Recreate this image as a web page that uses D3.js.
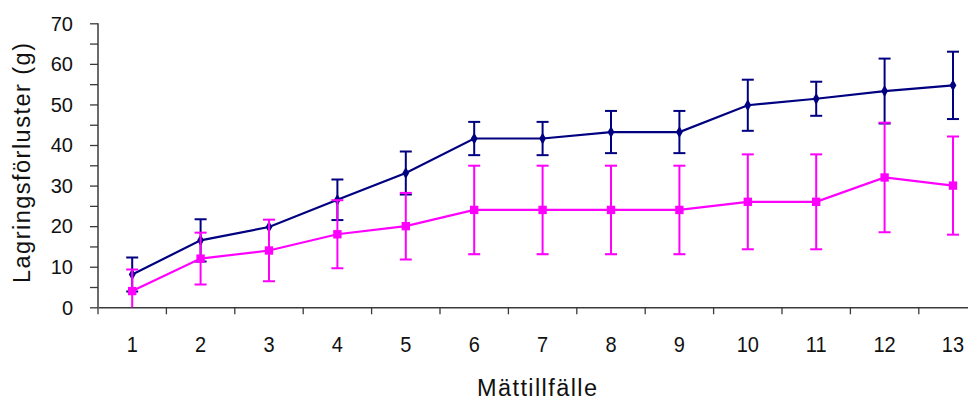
<!DOCTYPE html>
<html>
<head>
<meta charset="utf-8">
<script src="https://cdn.jsdelivr.net/npm/d3@7"></script>
<style>
  html, body { margin: 0; padding: 0; background: #fff; }
  svg { display: block; font-family: "Liberation Sans", Arial, sans-serif; }
</style>
</head>
<body>
<svg id="chart" width="968" height="400"></svg>
<script>
const categories = ["1","2","3","4","5","6","7","8","9","10","11","12","13"];
const navyValues = [8.1, 16.5, 19.8, 26.5, 33.1, 41.6, 41.6, 43.2, 43.2, 49.8, 51.4, 53.3, 54.7];
const navyErrors = [4.2, 5.2, 0, 5.0, 5.3, 4.1, 4.1, 5.2, 5.2, 6.3, 4.2, 8.0, 8.3];
const pinkValues = [4.0, 12.0, 14.0, 18.0, 20.0, 24.0, 24.0, 24.0, 24.0, 26.0, 26.0, 32.0, 30.0];
const pinkErrors = [5.3, 6.4, 7.6, 8.4, 8.2, 10.9, 10.9, 10.9, 10.9, 11.7, 11.7, 13.5, 12.1];
const yTicks = [0, 10, 20, 30, 40, 50, 60, 70];
const yMinorTicks = [0, 5, 10, 15, 20, 25, 30, 35, 40, 45, 50, 55, 60, 65, 70];
const yTitle = "Lagringsförluster (g)";
const xTitle = "Mättillfälle";

const svg = d3.select("#chart");
const mLeft = 98, mTop = 23.3, mBottom = 307.3, bandW = 68.4;
const x = d3.scaleBand().domain(categories).range([mLeft, mLeft + bandW * categories.length]).padding(0);
const y = d3.scaleLinear().domain([0, 70]).range([mBottom, mTop]);
const cx = c => x(c) + x.bandwidth() / 2;

const axisColor = "#3a3a3a";

svg.append("clipPath").attr("id", "plot")
  .append("rect").attr("x", mLeft).attr("y", 0).attr("width", 968 - mLeft).attr("height", mBottom);

// y axis
const yAxis = svg.append("g").attr("transform", `translate(${mLeft},0)`)
  .call(d3.axisLeft(y).tickValues(yMinorTicks).tickSize(8).tickFormat(""));
yAxis.select(".domain").attr("stroke", axisColor).attr("stroke-width", 1.5).attr("d", `M0,${mTop}V${mBottom}`);
yAxis.selectAll(".tick line").attr("stroke", axisColor).attr("stroke-width", 1.3);

svg.append("g").selectAll("text").data(yTicks).join("text")
  .attr("x", 73).attr("y", d => y(d)).attr("dy", "0.36em")
  .attr("text-anchor", "end").attr("font-size", 20).attr("fill", "#111")
  .text(d => d);

// x axis
const xAxis = svg.append("g").attr("transform", `translate(0,${mBottom})`)
  .call(d3.axisBottom(x).tickSize(0).tickFormat(""));
xAxis.select(".domain").attr("stroke", axisColor).attr("stroke-width", 1.5);
xAxis.selectAll(".tick").remove();
svg.append("g").selectAll("line").data(categories).join("line")
  .attr("x1", d => x(d)).attr("x2", d => x(d))
  .attr("y1", mBottom).attr("y2", mBottom + 7)
  .attr("stroke", axisColor).attr("stroke-width", 1.3);

svg.append("g").selectAll("text").data(categories).join("text")
  .attr("x", d => cx(d)).attr("y", 352)
  .attr("text-anchor", "middle").attr("font-size", 20).attr("fill", "#111")
  .attr("transform", `translate(0,352) scale(1,1.12) translate(0,-352)`)
  .text(d => d);

// titles
svg.append("text")
  .attr("transform", `translate(30,163) rotate(-90)`)
  .attr("text-anchor", "middle").attr("font-size", 23.5).attr("fill", "#111")
  .attr("textLength", 240).attr("lengthAdjust", "spacing")
  .text(yTitle);
svg.append("text")
  .attr("x", 537).attr("y", 396)
  .attr("text-anchor", "middle").attr("font-size", 23.5).attr("fill", "#111")
  .attr("textLength", 120).attr("lengthAdjust", "spacing")
  .text(xTitle);

function drawSeries(values, errors, color, marker) {
  const g = svg.append("g").attr("clip-path", "url(#plot)");
  const data = categories.map((c, i) => ({c, v: values[i], e: errors[i]}));
  const line = d3.line().x(d => cx(d.c)).y(d => y(d.v));
  g.append("path").datum(data).attr("d", line)
    .attr("fill", "none").attr("stroke", color).attr("stroke-width", 2.2);
  const eb = g.append("g").selectAll("g").data(data.filter(d => d.e > 0)).join("g")
    .attr("stroke", color).attr("stroke-width", 2);
  eb.append("line").attr("x1", d => cx(d.c)).attr("x2", d => cx(d.c))
    .attr("y1", d => y(d.v - d.e)).attr("y2", d => y(d.v + d.e));
  eb.append("line").attr("x1", d => cx(d.c) - 6).attr("x2", d => cx(d.c) + 6)
    .attr("y1", d => y(d.v + d.e)).attr("y2", d => y(d.v + d.e));
  eb.filter(d => d.v - d.e >= 0).append("line").attr("x1", d => cx(d.c) - 6).attr("x2", d => cx(d.c) + 6)
    .attr("y1", d => y(d.v - d.e)).attr("y2", d => y(d.v - d.e));
  const sym = d3.symbol().type(marker === "square" ? d3.symbolSquare : d3.symbolDiamond)
    .size(marker === "square" ? 70 : 40);
  svg.append("g").selectAll("path").data(data).join("path")
    .attr("transform", d => `translate(${cx(d.c)},${y(d.v)})`)
    .attr("d", sym).attr("fill", color);
}

drawSeries(navyValues, navyErrors, "#000080", "diamond");
drawSeries(pinkValues, pinkErrors, "#FF00FF", "square");
</script>
</body>
</html>
